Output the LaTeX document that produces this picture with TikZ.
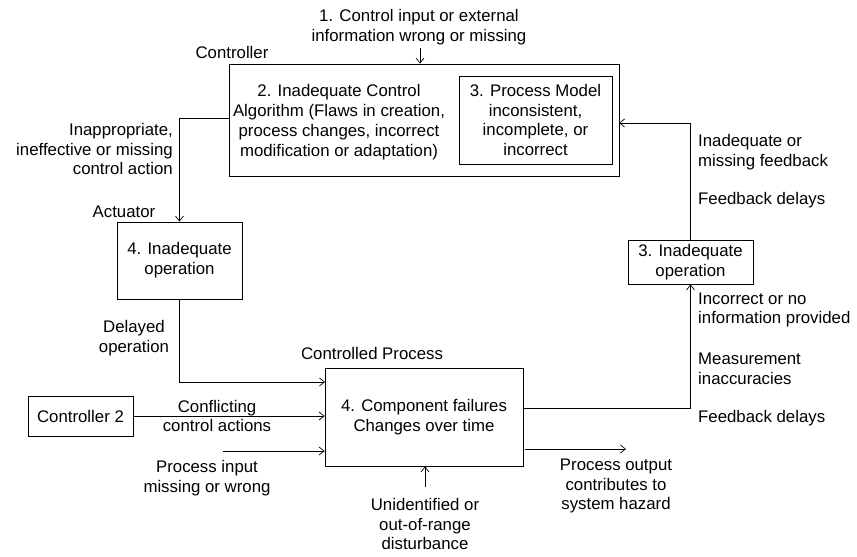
\documentclass[tikz,border=0pt]{standalone}
\usepackage{fontspec}
\setmainfont{Liberation Sans}
\usetikzlibrary{arrows.meta,calc}
\begin{document}
\begin{tikzpicture}[x=1pt,y=-1pt,
  every node/.style={font=\fontsize{16.8}{19.8}\selectfont, align=center, inner sep=0pt},
  box/.style={draw, line width=0.75pt},
  conn/.style={line width=0.75pt},
  arr/.style={conn, -{Straight Barb[length=5pt,width=8pt,line width=0.7pt]}}]
\useasboundingbox (0,0) rectangle (857,557);
% boxes
\node[box, minimum width=390pt, minimum height=112pt] (ctrl) at (424,120) {};
\node[box, minimum width=153pt, minimum height=88pt] (pm) at (535.5,120) {3. Process Model\\inconsistent,\\incomplete, or\\incorrect};
\node[box, minimum width=125pt, minimum height=77pt] (act) at (179.5,260.5) {4. Inadequate\\operation};
\node[box, minimum width=198pt, minimum height=98pt] (proc) at (424,417) {4. Component failures\\Changes over time};
\node[box, minimum width=105pt, minimum height=40pt] (c2) at (80.5,416) {Controller 2};
\node[box, minimum width=125pt, minimum height=44pt] (sens) at (690.5,262) {3. Inadequate\\operation};
% texts
\node (t1) at (419,27) {1. Control input or external\\information wrong or missing};
\node (tctrl) at (232,52) {Controller};
\node (talg) at (339,122) {2. Inadequate Control\\Algorithm (Flaws in creation,\\process changes, incorrect\\modification or adaptation)};
\node[anchor=east, align=right] (tca) at (173,149) {Inappropriate,\\ineffective or missing\\control action};
\node (tact) at (124,212) {Actuator};
\node (tdel) at (134,338) {Delayed\\operation};
\node (tproc) at (372,353) {Controlled Process};
\node (tconf) at (217,416) {Conflicting\\control actions};
\node (tpin) at (207,478) {Process input\\missing or wrong};
\node (tdist) at (425,524) {Unidentified or\\out-of-range\\disturbance};
\node (tout) at (616,486) {Process output\\contributes to\\system hazard};
\node[anchor=west, align=left] (tfb1) at (698,152) {Inadequate or\\missing feedback};
\node[anchor=west, align=left] (tfb2) at (698,200) {Feedback delays};
\node[anchor=west, align=left] (tinc) at (698,310) {Incorrect or no\\information provided};
\node[anchor=west, align=left] (tmeas) at (698,369) {Measurement\\inaccuracies};
\node[anchor=west, align=left] (tfb3) at (698,418) {Feedback delays};
% coordinates
\coordinate (in1) at (420,48);
\coordinate (cao) at (229,118);
\coordinate (p1) at (325,382);
\coordinate (pin) at (223,451);
\coordinate (dist) at (425,487);
\coordinate (outs) at (525,449);
\coordinate (oute) at (626,449);
\coordinate (fbs) at (523,408);
\coordinate (fbe) at (619,123);
% connectors
\draw[arr] (in1) -- (in1 |- ctrl.north);
\draw[arr] (cao) -| (act.north);
\draw[arr] (act.south) |- (p1);
\draw[arr] (c2.east) -- (c2.east -| proc.west);
\draw[arr] (pin) -- (pin -| proc.west);
\draw[arr] (dist) -- (dist |- proc.south);
\draw[arr] (outs) -- (oute);
\draw[arr] (fbs) -| (sens.south);
\draw[arr] (sens.north) |- (fbe);
\end{tikzpicture}
\end{document}
